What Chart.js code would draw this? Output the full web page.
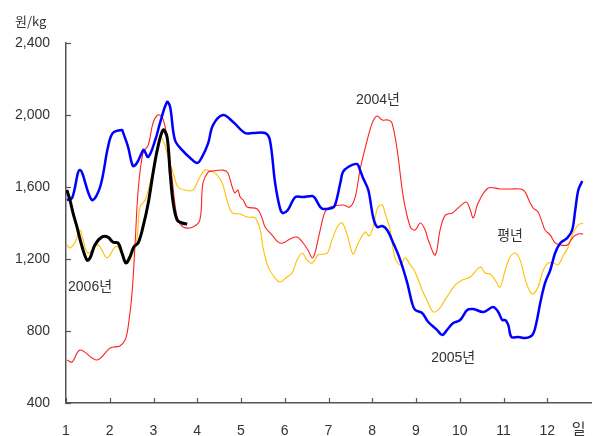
<!DOCTYPE html>
<html><head><meta charset="utf-8">
<script src="https://cdn.jsdelivr.net/npm/chart.js@4.4.1/dist/chart.umd.min.js"></script>
<style>html,body{margin:0;padding:0;background:#fff}#wrap{width:594px;height:436px}</style>
</head><body><div id="wrap"><canvas id="c" width="594" height="436"></canvas></div>
<script>
// ---- data ----
const monthTicks = [1,2,3,4,5,6,7,8,9,10,11,12];
const endTickPos = 12.72;
const endTickLabel = '일';
const unitLabel = '원/kg';
const yMin = 400, yMax = 2400, yStep = 400;

const seriesNames = ['2006년', '2005년', '2004년', '평년'];

const m2006 = [1.02,1.09,1.16,1.25,1.37,1.48,1.55,1.66,1.82,1.96,2.07,2.19,2.28,2.37,2.46,2.55,2.65,2.76,2.88,2.99,3.10,3.22,3.31,3.38,3.45,3.54,3.65,3.77];
const v2006 = [1583,1528,1456,1378,1267,1194,1206,1278,1322,1322,1294,1289,1233,1178,1211,1267,1289,1378,1511,1678,1822,1917,1878,1678,1511,1417,1400,1394];

const m2005 = [1.02,1.14,1.32,1.59,1.78,1.96,2.07,2.28,2.30,2.42,2.53,2.62,2.74,2.78,2.88,3.04,3.15,3.31,3.38,3.49,3.65,3.84,4.00,4.11,4.25,4.36,4.59,4.82,5.09,5.28,5.55,5.66,5.78,5.89,5.96,6.07,6.24,6.42,6.63,6.69,6.81,6.88,7.08,7.15,7.27,7.33,7.45,7.65,7.72,7.79,7.91,8.02,8.11,8.23,8.34,8.48,8.64,8.80,8.91,8.98,9.14,9.28,9.48,9.60,9.71,9.85,10.01,10.17,10.31,10.54,10.76,10.88,10.97,11.04,11.11,11.18,11.34,11.50,11.66,11.75,11.84,11.95,12.07,12.18,12.30,12.46,12.57,12.64,12.71,12.80];
const v2005 = [1528,1539,1694,1528,1600,1822,1900,1917,1906,1822,1717,1733,1794,1806,1767,1861,1956,2072,2044,1861,1806,1761,1733,1767,1844,1944,2000,1961,1900,1900,1900,1861,1622,1483,1456,1472,1544,1544,1550,1539,1489,1478,1483,1500,1622,1683,1711,1728,1694,1650,1583,1433,1378,1383,1361,1289,1194,1067,956,917,900,850,806,778,806,844,861,917,922,906,933,906,861,861,833,767,767,761,778,844,956,1067,1139,1233,1289,1317,1361,1472,1583,1633];

const m2004 = [1.02,1.14,1.32,1.71,2.01,2.23,2.35,2.42,2.51,2.58,2.65,2.76,2.88,2.99,3.10,3.20,3.31,3.42,3.54,3.68,3.90,4.06,4.13,4.25,4.36,4.59,4.70,4.80,4.86,4.93,4.98,5.05,5.14,5.37,5.48,5.55,5.71,5.85,5.96,6.12,6.28,6.42,6.53,6.63,6.69,6.81,6.92,7.04,7.33,7.49,7.61,7.72,7.84,8.00,8.11,8.23,8.36,8.45,8.57,8.71,8.87,8.98,9.10,9.21,9.28,9.44,9.55,9.67,9.83,9.96,10.15,10.24,10.31,10.42,10.65,10.92,11.15,11.45,11.61,11.68,11.79,11.88,11.95,12.07,12.18,12.30,12.46,12.59,12.71,12.82];
const v2004 = [639,628,694,639,706,717,750,822,1011,1289,1583,1789,1833,1956,2000,1989,1878,1656,1433,1378,1378,1417,1622,1683,1689,1694,1678,1600,1567,1583,1544,1528,1489,1478,1428,1378,1333,1294,1289,1311,1322,1289,1250,1206,1233,1361,1461,1489,1500,1489,1544,1694,1817,1956,1994,1972,1972,1956,1806,1544,1378,1361,1400,1361,1306,1222,1361,1444,1456,1483,1517,1472,1428,1511,1594,1589,1589,1583,1511,1483,1461,1406,1361,1333,1289,1278,1278,1322,1339,1339];

const mAvg = [1.02,1.09,1.21,1.32,1.39,1.50,1.71,1.78,1.94,2.12,2.19,2.35,2.42,2.51,2.62,2.69,2.81,2.92,3.04,3.15,3.26,3.33,3.45,3.56,3.72,3.90,4.06,4.18,4.29,4.41,4.57,4.68,4.80,4.98,5.14,5.32,5.44,5.50,5.62,5.78,5.89,6.05,6.17,6.28,6.40,6.51,6.63,6.76,6.97,7.08,7.20,7.31,7.43,7.56,7.68,7.84,7.93,8.02,8.13,8.23,8.29,8.41,8.52,8.64,8.75,8.87,8.98,9.14,9.28,9.39,9.51,9.62,9.78,9.90,10.06,10.24,10.47,10.58,10.70,10.81,10.92,11.04,11.15,11.27,11.38,11.50,11.61,11.68,11.79,11.91,12.02,12.14,12.25,12.37,12.48,12.59,12.71,12.82];
const vAvg = [1278,1261,1294,1361,1306,1233,1278,1267,1206,1267,1267,1183,1178,1222,1306,1489,1528,1622,1750,1878,1833,1767,1678,1600,1583,1583,1656,1694,1689,1678,1622,1528,1456,1450,1433,1428,1361,1267,1156,1094,1072,1100,1122,1194,1233,1194,1178,1222,1233,1306,1378,1400,1333,1228,1289,1350,1328,1378,1489,1500,1456,1361,1206,1167,1206,1167,1128,1028,956,906,917,956,1017,1056,1083,1100,1156,1122,1117,1083,1044,1139,1211,1233,1194,1083,1017,1006,1044,1139,1178,1178,1167,1222,1267,1344,1389,1400];

// label anchors (data coordinates)
const seriesLabelPos = [
  {text:'2004년', x:8.13, y:2083},
  {text:'2006년', x:1.55, y:1044},
  {text:'평년',   x:11.15, y:1328},
  {text:'2005년', x:9.85, y:650}
];

const toPts = (ms, vs) => ms.map((m, i) => ({x: m, y: vs[i]}));

const FONT = "'Liberation Sans', 'Noto Sans CJK KR', sans-serif";
const TXT = '#333333';
const AXIS = '#555555';

const decor = {
  id: 'decor',
  afterDatasetsDraw(chart) {
    const {ctx, chartArea: a, scales: {x, y}} = chart;
    ctx.save();
    // inward ticks
    ctx.strokeStyle = AXIS; ctx.lineWidth = 1.2;
    monthTicks.forEach(m => {
      const px = Math.round(x.getPixelForValue(m)) + 0.5;
      ctx.beginPath(); ctx.moveTo(px, a.bottom); ctx.lineTo(px, a.bottom - 5); ctx.stroke();
    });
    for (let v = yMin; v <= yMax; v += yStep) {
      const py = Math.round(y.getPixelForValue(v)) + 0.5;
      ctx.beginPath(); ctx.moveTo(a.left, py); ctx.lineTo(a.left + 5, py); ctx.stroke();
    }
    ctx.fillStyle = TXT;
    // end-of-axis unit
    ctx.font = "15px 'Noto Sans CJK KR', sans-serif";
    ctx.textAlign = 'center'; ctx.textBaseline = 'middle';
    ctx.fillText(endTickLabel, x.getPixelForValue(endTickPos), a.bottom + 25);
    // series labels
    ctx.font = "14px " + FONT;
    seriesLabelPos.forEach(l => ctx.fillText(l.text, x.getPixelForValue(l.x), y.getPixelForValue(l.y)));
    // unit label
    ctx.font = "13px 'Noto Sans CJK KR', sans-serif";
    ctx.textAlign = 'left';
    ctx.fillText(unitLabel, 15, 21);
    ctx.restore();
  }
};

new Chart(document.getElementById('c'), {
  type: 'line',
  data: {
    datasets: [
      {label: seriesNames[0], data: toPts(m2006, v2006), borderColor: '#000000', borderWidth: 3},
      {label: seriesNames[1], data: toPts(m2005, v2005), borderColor: '#0000FF', borderWidth: 2.5},
      {label: seriesNames[2], data: toPts(m2004, v2004), borderColor: '#FF2020', borderWidth: 1.1},
      {label: seriesNames[3], data: toPts(mAvg, vAvg), borderColor: '#FFC000', borderWidth: 1.1}
    ]
  },
  options: {
    responsive: false,
    animation: false,
    devicePixelRatio: 1,
    layout: {padding: {top: 43, right: 3, left: 0, bottom: 0}},
    elements: {point: {radius: 0}, line: {tension: 0.35, fill: false}},
    plugins: {legend: {display: false}, tooltip: {enabled: false}},
    scales: {
      x: {
        type: 'linear', min: 1, max: 13,
        afterBuildTicks: s => { s.ticks = monthTicks.map(v => ({value: v})); },
        afterFit: s => { s.height = 33; s.paddingRight = 0; },
        grid: {drawOnChartArea: false, drawTicks: false},
        border: {display: true, color: AXIS, width: 1.5},
        ticks: {
          autoSkip: false, maxRotation: 0, padding: 20, color: TXT,
          font: {size: 14, family: FONT},
          callback: v => String(v)
        }
      },
      y: {
        min: yMin, max: yMax,
        afterFit: s => { s.width = 66; },
        grid: {drawOnChartArea: false, drawTicks: false},
        border: {display: true, color: AXIS, width: 1.5},
        ticks: {
          stepSize: yStep, padding: 16, color: TXT,
          font: {size: 14, family: FONT},
          callback: v => v.toLocaleString('en-US')
        }
      }
    }
  },
  plugins: [decor]
});
</script>
</body></html>
